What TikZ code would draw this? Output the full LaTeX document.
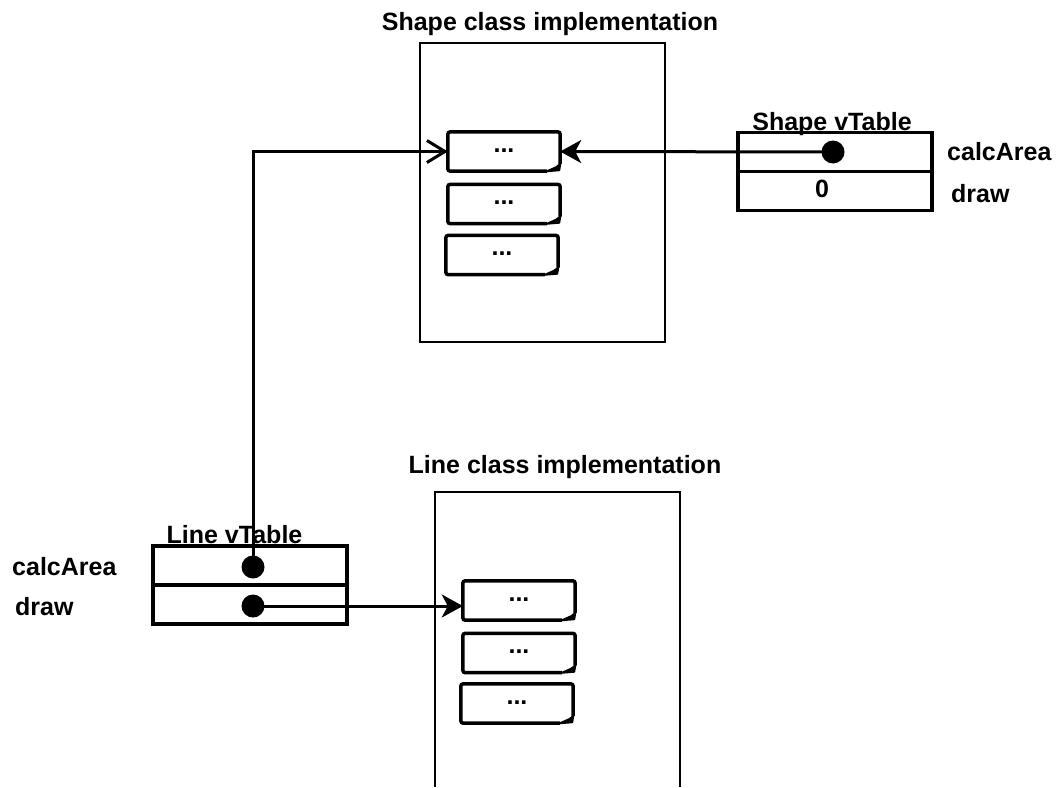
\documentclass[tikz,border=0pt]{standalone}
\usepackage{fontspec}
\setmainfont{Liberation Sans}
\usetikzlibrary{arrows.meta, positioning, calc}

\begin{document}
\begin{tikzpicture}[x=1pt, y=-1pt, >=Stealth,
    font=\fontsize{25}{30}\selectfont\bfseries,
    % khung lớn chứa các hàm của lớp
    implbox/.style={draw, line width=2pt},
    slot/.style={minimum width=112pt, minimum height=39pt, inner sep=0pt, text depth=2pt},
    slotline/.style={line width=3.5pt, rounded corners=2.5pt},
    vrow/.style={draw, line width=3.5pt, minimum width=194pt, minimum height=39pt, inner sep=0pt, outer sep=0pt},
    ptr/.style={circle, fill, inner sep=0pt, minimum size=23pt},
    lbl/.style={inner sep=0pt},
    link/.style={line width=3pt}]

    \path[use as bounding box] (0,0) rectangle (1060,787);

    % Shape class implementation
    \node[implbox, minimum width=245pt, minimum height=299pt] (shapeimpl) at (542.5,192.5) {};
    \node[lbl, anchor=base] (shapetitle) at (550,30.5) {Shape class implementation};
    \node[slot] (sa) at (504,151.5) {...};
    \node[slot] (sb) at (504,204) {...};
    \node[slot] (sc) at (502,255) {...};

    % Line class implementation (bị cắt ở mép dưới)
    \draw[implbox] (435,787) |- (680,492) -- (680,787);
    \node[lbl, anchor=base] (linetitle) at (565,473) {Line class implementation};
    \node[slot] (la) at (519,600.5) {...};
    \node[slot] (lb) at (519,653) {...};
    \node[slot] (lc) at (517,703.5) {...};

    % viền các ô có góc gấp
    \foreach \s in {sa,sb,sc,la,lb,lc} {
        \draw[slotline] ([yshift=7pt]\s.south east) -- (\s.north east) -- (\s.north west)
            -- (\s.south west) -- ([xshift=-13pt]\s.south east);
        \filldraw[line width=2pt, line join=round] ([xshift=-13pt]\s.south east)
            -- ([shift={(-4pt,4pt)}]\s.south east) -- ([yshift=7pt]\s.south east)
            -- ([shift={(-1pt,1pt)}]\s.south east) -- cycle;
    }

    % Shape vTable
    \node[vrow] (svtop) at (835,152) {};
    \node[vrow, below=0pt of svtop] (svbot) {};
    \node[lbl, anchor=base] (svtitle) at (832,130) {Shape vTable};
    \node[ptr] (svdot) at (833,152) {};
    \node[lbl, anchor=base] (zero) at (822,197) {0};
    \node[lbl, anchor=base west] (scalc) at (947,160) {calcArea};
    \node[lbl, anchor=base west] (sdraw) at (951,202) {draw};

    % Line vTable
    \node[vrow] (lvtop) at (250,565.5) {};
    \node[vrow, below=0pt of lvtop] (lvbot) {};
    \node[lbl, anchor=base] (lvtitle) at (234.5,543) {Line vTable};
    \node[ptr] (lvdot1) at (253,567) {};
    \node[ptr] (lvdot2) at (253,606) {};
    \node[lbl, anchor=base west] (lcalc) at (12,575) {calcArea};
    \node[lbl, anchor=base west] (ldraw) at (15,615) {draw};

    % Vẽ mũi tên
    \draw[link, -{Stealth[length=21pt, width=23pt, inset=6pt]}] (svdot.center) -- (sa.east);
    \draw[link, -{Straight Barb[length=18pt, width=22pt]}] (lvdot1.center) |- (sa.west);
    \draw[link, -{Stealth[length=21pt, width=23pt, inset=6pt]}] (lvdot2.center) -- (lvdot2 -| la.west);
\end{tikzpicture}
\end{document}
